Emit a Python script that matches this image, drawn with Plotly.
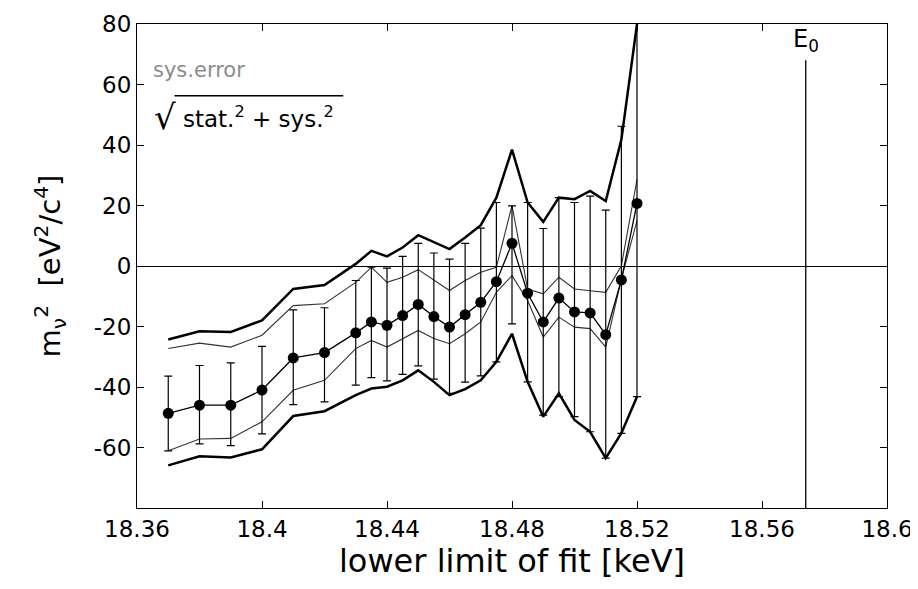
import plotly.graph_objects as go

# ---- data ----
x_fit = [18.37, 18.38, 18.39, 18.40, 18.41, 18.42, 18.43, 18.435, 18.44, 18.445,
         18.45, 18.455, 18.46, 18.465, 18.47, 18.475, 18.48, 18.485, 18.49, 18.495,
         18.50, 18.505, 18.51, 18.515, 18.52]

m2_fit = [-48.7, -46.0, -46.0, -41.0, -30.4, -28.6, -22.1, -18.5, -19.6, -16.4,
          -12.7, -16.7, -20.2, -16.1, -12.0, -5.2, 7.5, -9.0, -18.5, -10.6,
          -15.2, -15.5, -22.7, -4.6, 20.7]

stat_err_plus = [12.3, 13.1, 14.0, 14.4, 15.9, 14.8, 17.3, 18.1, 18.9, 19.6,
                 20.2, 21.0, 22.5, 23.6, 24.5, 26.2, 12.4, 30.0, 30.9, 33.2,
                 36.2, 38.6, 41.2, 50.8, 63.9]
stat_err_minus = [12.4, 12.8, 13.4, 14.5, 15.4, 16.3, 17.3, 18.4, 18.4, 19.4,
                  20.3, 20.7, 21.9, 22.3, 24.3, 26.5, 26.6, 29.3, 30.8, 32.6,
                  34.6, 39.3, 40.8, 50.7, 63.9]

sys_upper = [-27.3, -25.5, -26.8, -22.9, -13.1, -12.5, -5.4, -0.4, -5.4, -3.7,
             -1.2, -4.8, -8.1, -4.8, -2.1, -0.4, 20.0, -7.6, -9.2, -3.7,
             -7.6, -8.2, -8.7, 0.1, 28.6]
sys_lower = [-61.1, -57.2, -57.0, -51.5, -41.1, -37.8, -27.3, -24.6, -26.8, -24.0,
             -21.3, -24.0, -25.7, -22.4, -18.5, -8.7, -3.2, -11.4, -23.5, -16.9,
             -20.2, -20.7, -26.8, -4.3, 15.0]

tot_upper = [-24.3, -21.6, -21.8, -18.0, -7.6, -6.3, 0.7, 5.0, 3.2, 6.1,
             10.2, 7.8, 5.6, 9.4, 13.5, 22.6, 38.5, 21.0, 14.6, 22.6,
             22.1, 24.8, 21.5, 41.8, 80.0]
tot_lower = [-65.9, -62.9, -63.3, -60.6, -49.6, -48.0, -42.7, -40.5, -39.9, -37.8,
             -34.5, -38.3, -42.7, -40.7, -37.8, -31.7, -22.4, -38.3, -49.8, -42.1,
             -50.9, -54.8, -63.5, -55.3, -43.2]

E0 = 18.574
E0_line_top = 68

x_ticks = [18.36, 18.40, 18.44, 18.48, 18.52, 18.56, 18.60]
x_ticklabels = ["18.36", "18.4", "18.44", "18.48", "18.52", "18.56", "18.6"]
y_ticks = [-60, -40, -20, 0, 20, 40, 60, 80]
y_ticklabels = ["-60", "-40", "-20", "0", "20", "40", "60", "80"]

FONT = "DejaVu Sans"

fig = go.Figure()

for ys in (tot_upper, tot_lower):
    fig.add_trace(go.Scatter(x=x_fit, y=ys, mode="lines",
                             line=dict(color="black", width=2.5),
                             showlegend=False, hoverinfo="skip"))
for ys in (sys_upper, sys_lower):
    fig.add_trace(go.Scatter(x=x_fit, y=ys, mode="lines",
                             line=dict(color="#333333", width=1.1),
                             showlegend=False, hoverinfo="skip"))

fig.add_trace(go.Scatter(
    x=x_fit, y=m2_fit, mode="lines+markers",
    line=dict(color="black", width=1.3),
    marker=dict(color="black", size=11),
    error_y=dict(type="data", symmetric=False, array=stat_err_plus,
                 arrayminus=stat_err_minus, color="black", thickness=1.2, width=4),
    showlegend=False))

# E0 marker line
fig.add_shape(type="line", xref="x", yref="y", x0=E0, x1=E0, y0=-80, y1=E0_line_top,
              line=dict(color="black", width=1.3))
fig.add_annotation(x=E0, y=E0_line_top, xref="x", yref="y", text="E<sub>0</sub>",
                   showarrow=False, xanchor="center", yanchor="bottom", yshift=2,
                   font=dict(family=FONT, size=24, color="black"))

# key text
fig.add_annotation(xref="paper", yref="paper", x=0.018, y=0.905, text="sys.error",
                   showarrow=False, xanchor="left", yanchor="middle",
                   font=dict(family=FONT, size=21, color="#8c8c8c"))
fig.add_annotation(xref="paper", yref="paper", x=0.020, y=0.808, text="√",
                   showarrow=False, xanchor="left", yanchor="middle",
                   font=dict(family=FONT, size=34, color="black"))
fig.add_annotation(xref="paper", yref="paper", x=0.058, y=0.808,
                   text="stat.<sup>2</sup> + sys.<sup>2</sup>",
                   showarrow=False, xanchor="left", yanchor="middle",
                   font=dict(family=FONT, size=23, color="black"))
fig.add_shape(type="line", xref="paper", yref="paper", x0=0.050, x1=0.275,
              y0=0.852, y1=0.852, line=dict(color="black", width=1.5))

# page body has an 8px margin: size and margins compensate so the plot area
# lands at x 137..887, y 24..508 in the 918x589 window
fig.update_layout(
    width=910, height=581,
    margin=dict(l=129, r=31, t=16, b=81),
    paper_bgcolor="white", plot_bgcolor="white",
    font=dict(family=FONT, color="black"),
    xaxis=dict(range=[18.36, 18.6], tickvals=x_ticks, ticktext=x_ticklabels,
               showline=True, mirror="ticks", linecolor="black", linewidth=1.2,
               ticks="inside", ticklen=7, tickcolor="black", showgrid=False,
               zeroline=False, tickfont=dict(family=FONT, size=23),
               title=dict(text="lower limit of fit [keV]", standoff=6,
                          font=dict(family=FONT, size=32)),
               automargin=False),
    yaxis=dict(range=[-80, 80], tickvals=y_ticks, ticktext=y_ticklabels,
               showline=True, mirror="ticks", linecolor="black", linewidth=1.2,
               ticks="inside", ticklen=7, tickcolor="black", showgrid=False,
               zeroline=True, zerolinecolor="black", zerolinewidth=1.2,
               tickfont=dict(family=FONT, size=23),
               title=dict(text="m<sub>ν</sub><sup>2</sup>  [eV<sup>2</sup>/c<sup>4</sup>]",
                          standoff=24, font=dict(family=FONT, size=29)),
               automargin=False),
)

fig.write_html("out.html")
